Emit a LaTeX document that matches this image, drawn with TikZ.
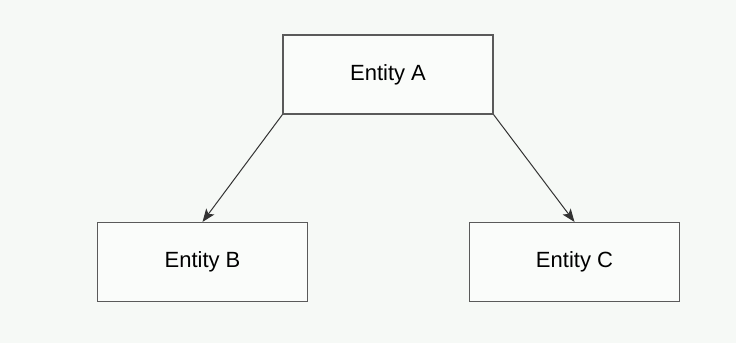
\documentclass[tikz,border=0pt]{standalone}
\usepackage{fontspec}
\setmainfont{Liberation Sans}
\usetikzlibrary{arrows.meta}
\definecolor{bgc}{RGB}{246,249,246}
\definecolor{boxfill}{RGB}{250,252,250}
\definecolor{linec}{RGB}{90,90,90}
\begin{document}
\begin{tikzpicture}[x=1pt,y=-1pt,
  entity/.style={draw=linec, line width=1.1pt, fill=boxfill, minimum width=210pt, minimum height=79pt, inner sep=0pt, font=\fontsize{22}{26}\selectfont},
  conn/.style={draw=black!80, line width=1pt, -{Stealth[length=13pt,width=10pt,inset=3pt]}}]
\fill[bgc] (0,0) rectangle (736,343);
\useasboundingbox (0,0) rectangle (736,343);
\node[entity] (A) at (388,74.5) {Entity A};
\node[entity] (B) at (202.5,262) {Entity B};
\node[entity] (C) at (574.5,262) {Entity C};
\draw[conn] (A.south west) -- (B.north);
\draw[conn] (A.south east) -- (C.north);
\end{tikzpicture}
\end{document}
